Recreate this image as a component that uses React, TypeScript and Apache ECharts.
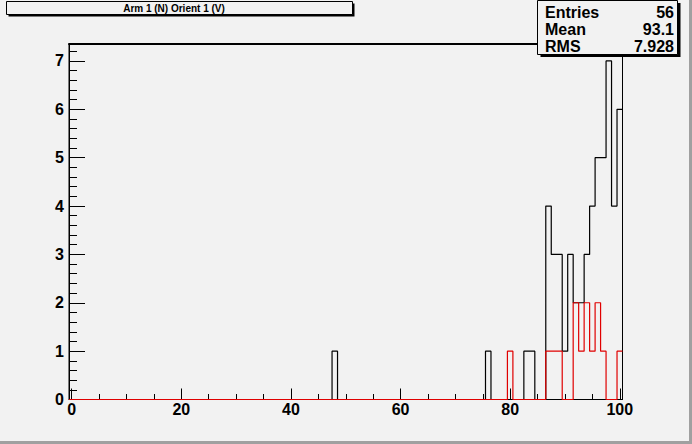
import React, { useEffect, useRef } from "react";
import * as echarts from "echarts";

// ---- data ----
const binLow = -0.5; // 101 bins of width 1, centred on integers 0..100
const nBins = 101;

const blackBins = [48, 76, 83, 84, 87, 88, 89, 90, 91, 92, 93, 94, 95, 96, 97, 98, 99, 100];
const blackCounts = [1, 1, 1, 1, 4, 3, 3, 1, 3, 2, 2, 3, 4, 5, 5, 7, 4, 6];

const redBins = [80, 87, 88, 89, 92, 93, 94, 95, 96, 97, 100];
const redCounts = [1, 1, 1, 1, 2, 1, 2, 1, 2, 1, 1];

const xMajorTicks = [0, 20, 40, 60, 80, 100];
const xMinorTicks = [5, 10, 15, 25, 30, 35, 45, 50, 55, 65, 70, 75, 85, 90, 95];
const yMajorTicks = [0, 1, 2, 3, 4, 5, 6, 7];

const titleText = "Arm 1 (N) Orient 1 (V)";
const statLabels = ["Entries", "Mean", "RMS"];
const statValues = ["56", "93.1", "7.928"];

function buildCounts(bins: number[], counts: number[]) {
  const arr: number[] = new Array(nBins).fill(0);
  bins.forEach((b, i) => {
    arr[Math.round(b - binLow - 0.5)] = counts[i];
  });
  return arr;
}

function stepData(counts: number[]) {
  const pts: number[][] = [];
  for (let k = 0; k < nBins; k++) {
    const lo = binLow + k;
    pts.push([lo, counts[k]], [lo + 1, counts[k]]);
  }
  return pts;
}

const yMinorTicks: number[] = [];
for (let i = 1; i <= 36; i++) {
  const v = Math.round(i * 0.2 * 10) / 10;
  if (Math.abs(v - Math.round(v)) > 1e-6) yMinorTicks.push(v);
}

const FONT = "'Liberation Sans', Arial, Helvetica, sans-serif";
const BG = "#f2f2f2";
const ZG = 500;

export default function App() {
  const ref = useRef<HTMLDivElement>(null);
  useEffect(() => {
    if (!ref.current) return;
    const chart = echarts.init(ref.current, undefined, { renderer: "svg" });
    const black = buildCounts(blackBins, blackCounts);
    const red = buildCounts(redBins, redCounts);
    const xMin = binLow;
    const xMax = binLow + nBins;
    const yMax = 7.35;

    const labelStyle = {
      color: "#000",
      fontFamily: FONT,
      fontWeight: "bold" as const,
      fontSize: 16,
    };

    chart.setOption({
      animation: false,
      backgroundColor: BG,
      grid: {
        left: 69,
        right: 69.5,
        top: 44,
        bottom: 44.5,
        show: true,
        borderColor: "#000",
        borderWidth: 1,
        backgroundColor: "transparent",
      },
      xAxis: [
        {
          type: "value",
          min: xMin,
          max: xMax,
          position: "bottom",
          axisLine: { show: true, onZero: false, lineStyle: { color: "#000", width: 1 } },
          axisTick: {
            show: true,
            inside: true,
            length: 11,
            customValues: xMajorTicks,
            lineStyle: { color: "#000", width: 1 },
          },
          axisLabel: { ...labelStyle, margin: 2, customValues: xMajorTicks },
          splitLine: { show: false },
        },
        {
          type: "value",
          min: xMin,
          max: xMax,
          position: "bottom",
          axisLine: { show: false, onZero: false },
          axisTick: {
            show: true,
            inside: true,
            length: 5.5,
            customValues: xMinorTicks,
            lineStyle: { color: "#000", width: 1 },
          },
          axisLabel: { show: false },
          splitLine: { show: false },
        },
        {
          type: "value",
          min: xMin,
          max: xMax,
          position: "top",
          axisLine: { show: true, onZero: false, lineStyle: { color: "#000", width: 2 } },
          axisTick: { show: false },
          axisLabel: { show: false },
          splitLine: { show: false },
        },
      ],
      yAxis: [
        {
          type: "value",
          min: 0,
          max: yMax,
          position: "left",
          axisLine: { show: true, onZero: false, lineStyle: { color: "#000", width: 1 } },
          axisTick: {
            show: true,
            inside: true,
            length: 16,
            customValues: yMajorTicks,
            lineStyle: { color: "#000", width: 1 },
          },
          axisLabel: { ...labelStyle, margin: 5, customValues: yMajorTicks },
          splitLine: { show: false },
        },
        {
          type: "value",
          min: 0,
          max: yMax,
          position: "left",
          axisLine: { show: false, onZero: false },
          axisTick: {
            show: true,
            inside: true,
            length: 8,
            customValues: yMinorTicks,
            lineStyle: { color: "#000", width: 1 },
          },
          axisLabel: { show: false },
          splitLine: { show: false },
        },
      ],
      series: [
        {
          type: "line",
          xAxisIndex: 0,
          yAxisIndex: 0,
          data: stepData(black),
          showSymbol: false,
          symbol: "none",
          lineStyle: { color: "#000", width: 1.2 },
          clip: false,
          z: 3,
        },
        {
          type: "line",
          xAxisIndex: 0,
          yAxisIndex: 0,
          data: stepData(red),
          showSymbol: false,
          symbol: "none",
          lineStyle: { color: "#e00000", width: 1.2 },
          clip: false,
          z: 4,
        },
      ],
      graphic: [
        // canvas border shading
        { type: "rect", z: ZG, shape: { x: 0, y: 441, width: 692, height: 3 }, style: { fill: "#a0a0a0" } },
        { type: "rect", z: ZG, shape: { x: 689, y: 0, width: 3, height: 444 }, style: { fill: "#a0a0a0" } },
        // title box
        { type: "rect", z: ZG, shape: { x: 8.5, y: 3.5, width: 346, height: 13 }, style: { fill: "#000" } },
        { type: "rect", z: ZG + 1, shape: { x: 6.5, y: 1.5, width: 346, height: 13 }, style: { fill: BG, stroke: "#000", lineWidth: 1 } },
        {
          type: "text",
          z: ZG + 2,
          x: 174,
          y: 8.5,
          style: {
            text: titleText,
            fill: "#000",
            font: `bold 10px ${FONT}`,
            align: "center",
            verticalAlign: "middle",
          },
        },
        // stats box
        { type: "rect", z: ZG, shape: { x: 540.5, y: 3, width: 140, height: 54 }, style: { fill: "#000" } },
        { type: "rect", z: ZG + 1, shape: { x: 537.5, y: 0.5, width: 140, height: 54 }, style: { fill: BG, stroke: "#000", lineWidth: 1 } },
        ...statLabels.map((t, i) => ({
          type: "text",
          z: ZG + 2,
          x: 545,
          y: 12 + i * 17,
          style: { text: t, fill: "#000", font: `bold 16px ${FONT}`, align: "left", verticalAlign: "middle" },
        })),
        ...statValues.map((t, i) => ({
          type: "text",
          z: ZG + 2,
          x: 674,
          y: 12 + i * 17,
          style: { text: t, fill: "#000", font: `bold 16px ${FONT}`, align: "right", verticalAlign: "middle" },
        })),
      ],
    });
    return () => chart.dispose();
  }, []);
  return (
    <div
      ref={ref}
      style={{ position: "absolute", left: 0, top: 0, width: 692, height: 444 }}
    />
  );
}
